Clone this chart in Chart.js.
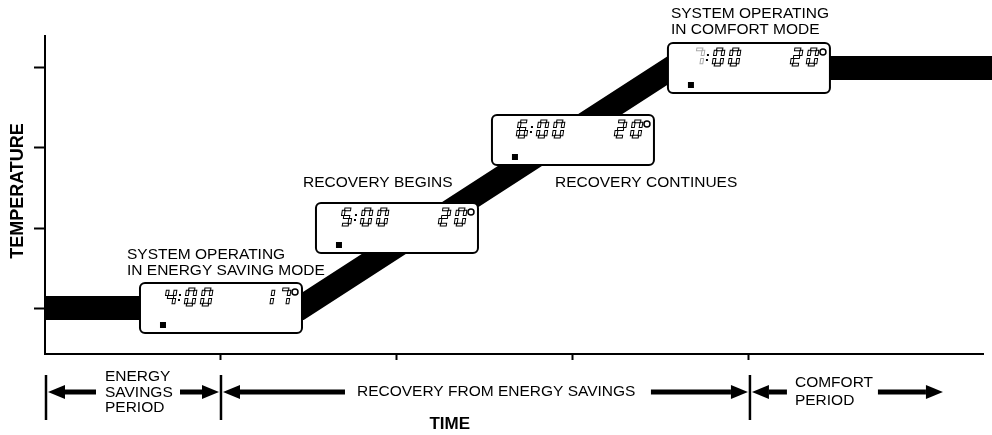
<!DOCTYPE html>
<html>
<head>
<meta charset="utf-8">
<script src="https://cdn.jsdelivr.net/npm/chart.js@4.4.1/dist/chart.umd.min.js"></script>
<style>
    html, body { margin: 0; padding: 0; background: #fff; }
    #wrap { width: 992px; height: 435px; position: relative; }
</style>
</head>
<body>
<div id="wrap"><canvas id="recoveryChart"></canvas></div>
<script>
// temperature profile: hour of day vs degrees
const timeValues = [3, 4.45, 6.56, 8.4];
const tempValues = [17, 17, 20, 20];
const timeTicks = [4, 5, 6, 7];
const tempTicks = [17, 18, 19, 20];

// thermostat readouts along the curve
const displayTimes = ['4:00', '5:00', '6:00', '7:00'];
const displayTemps = ['17', '20', '20', '20'];
const displayAtTime = [4, 5, 6, 7];
const displayAtTemp = [17, 18, 19.1, 20];
const displayNotes = [
    ['SYSTEM OPERATING', 'IN ENERGY SAVING MODE'],
    ['RECOVERY BEGINS'],
    ['RECOVERY CONTINUES'],
    ['SYSTEM OPERATING', 'IN COMFORT MODE']
];

// periods under the time axis
const periodEdges = [3, 4, 7];
const periodLabels = [
    ['ENERGY', 'SAVINGS', 'PERIOD'],
    ['RECOVERY FROM ENERGY SAVINGS'],
    ['COMFORT', 'PERIOD']
];

const FONT = '"Liberation Sans", Arial, sans-serif';

// seven segment digits
const SEGMENTS = {
    '0': 'abcdef', '1': 'bc', '2': 'abged', '3': 'abgcd', '4': 'fgbc',
    '5': 'afgcd', '6': 'afgecd', '7': 'abc', '8': 'abcdefg', '9': 'abcdfg'
};

function drawDigit(ctx, ch, x, y, color) {
    const w = 10.5, h = 18, t = 2.8, hh = h / 2;
    const rects = {
        a: [t * 0.8, 0, w - 1.6 * t, t],
        g: [t * 0.8, hh - t / 2, w - 1.6 * t, t],
        d: [t * 0.8, h - t, w - 1.6 * t, t],
        f: [0, t * 0.8, t, hh - 1.3 * t],
        b: [w - t, t * 0.8, t, hh - 1.3 * t],
        e: [0, hh + 0.5 * t, t, hh - 1.3 * t],
        c: [w - t, hh + 0.5 * t, t, hh - 1.3 * t]
    };
    ctx.save();
    ctx.translate(x, y + h);
    ctx.transform(1, 0, -0.15, 1, 0, 0);
    ctx.strokeStyle = color;
    ctx.lineWidth = 1;
    for (const s of SEGMENTS[ch] || '') {
        const r = rects[s];
        ctx.strokeRect(r[0], r[1] - h, r[2], r[3]);
    }
    ctx.restore();
}

function drawDisplay(ctx, cx, cy, time, temp, dimFirst) {
    const w = 162, h = 50;
    const x = cx - w / 2, y = cy - h / 2;
    ctx.save();
    ctx.beginPath();
    ctx.roundRect(x, y, w, h, 5);
    ctx.fillStyle = '#fff';
    ctx.fill();
    ctx.lineWidth = 2;
    ctx.strokeStyle = '#000';
    ctx.stroke();

    let dx = x + 24;
    const dy = y + 5;
    let first = true;
    for (const ch of time) {
        if (ch === ':') {
            ctx.fillStyle = '#000';
            ctx.fillRect(dx - 1, dy + 6, 2, 2);
            ctx.fillRect(dx - 2, dy + 11, 2, 2);
            dx += 4;
            continue;
        }
        drawDigit(ctx, ch, dx, dy, dimFirst && first ? '#aaa' : '#000');
        first = false;
        dx += 16;
    }
    const tx = x + w - 40;
    drawDigit(ctx, temp[0], tx, dy, '#000');
    drawDigit(ctx, temp[1], tx + 16, dy, '#000');
    ctx.beginPath();
    ctx.arc(x + w - 7, dy + 4, 3, 0, Math.PI * 2);
    ctx.lineWidth = 1.5;
    ctx.stroke();

    ctx.fillStyle = '#000';
    ctx.fillRect(x + 20, y + 39, 6, 6);
    ctx.restore();
}

function drawArrow(ctx, from, to, y) {
    const dir = Math.sign(to - from);
    const head = 17;
    ctx.lineWidth = 5;
    ctx.beginPath();
    ctx.moveTo(from, y);
    ctx.lineTo(to - dir * head, y);
    ctx.stroke();
    ctx.beginPath();
    ctx.moveTo(to, y);
    ctx.lineTo(to - dir * head, y - 7);
    ctx.lineTo(to - dir * head, y + 7);
    ctx.closePath();
    ctx.fill();
}

const annotations = {
    id: 'annotations',
    afterDatasetsDraw(chart) {
        const ctx = chart.ctx;
        const xs = chart.scales.x, ys = chart.scales.y;

        // readout boxes and their notes
        displayTimes.forEach((t, i) => {
            const cx = xs.getPixelForValue(displayAtTime[i]);
            const cy = ys.getPixelForValue(displayAtTemp[i]);
            drawDisplay(ctx, cx, cy, t, displayTemps[i], i === 3);
        });

        ctx.save();
        ctx.fillStyle = '#000';
        ctx.font = '15.5px ' + FONT;
        ctx.textBaseline = 'middle';
        ctx.textAlign = 'left';
        const boxLeft = i => xs.getPixelForValue(displayAtTime[i]) - 81;
        const boxTop = i => ys.getPixelForValue(displayAtTemp[i]) - 25;
        const boxBottom = i => ys.getPixelForValue(displayAtTemp[i]) + 25;
        ctx.fillText(displayNotes[0][0], boxLeft(0) - 13, boxTop(0) - 28);
        ctx.fillText(displayNotes[0][1], boxLeft(0) - 13, boxTop(0) - 12);
        ctx.fillText(displayNotes[1][0], boxLeft(1) - 13, boxTop(1) - 20);
        ctx.fillText(displayNotes[2][0], boxLeft(2) + 63, boxBottom(2) + 18);
        ctx.fillText(displayNotes[3][0], boxLeft(3) + 3, boxTop(3) - 29);
        ctx.fillText(displayNotes[3][1], boxLeft(3) + 3, boxTop(3) - 13);

        // period markers
        const [b0, b1, b2] = periodEdges.map(v => xs.getPixelForValue(v));
        const ay = 392;
        ctx.strokeStyle = '#000';
        ctx.lineWidth = 2.5;
        [b0 + 1, b1, b2 + 1].forEach(bx => {
            ctx.beginPath();
            ctx.moveTo(bx, 375);
            ctx.lineTo(bx, 420);
            ctx.stroke();
        });
        drawArrow(ctx, b0 + 51, b0 + 3, ay);
        drawArrow(ctx, b1 - 41, b1 - 2, ay);
        drawArrow(ctx, b1 + 124, b1 + 2, ay);
        drawArrow(ctx, b2 - 98, b2 - 1, ay);
        drawArrow(ctx, b2 + 38, b2 + 3, ay);
        drawArrow(ctx, b2 + 129, b2 + 194, ay);

        periodLabels[0].forEach((s, i) => ctx.fillText(s, b0 + 60, 377 + i * 15.5));
        ctx.fillText(periodLabels[1][0], b1 + 136, ay);
        periodLabels[2].forEach((s, i) => ctx.fillText(s, b2 + 46, 383 + i * 18));

        // axis titles
        ctx.font = 'bold 17px ' + FONT;
        ctx.textAlign = 'center';
        ctx.fillText('TIME', xs.getPixelForValue(5.3), 424);
        ctx.font = 'bold 18px ' + FONT;
        ctx.translate(18, 191);
        ctx.rotate(-Math.PI / 2);
        ctx.fillText('TEMPERATURE', 0, 0);
        ctx.restore();
    }
};

document.addEventListener('DOMContentLoaded', function() {
    const chartEl = document.getElementById('recoveryChart');
    new Chart(chartEl, {
        type: 'line',
        data: {
            datasets: [{
                data: timeValues.map((t, i) => ({ x: t, y: tempValues[i] })),
                borderColor: '#000',
                borderWidth: 24,
                borderCapStyle: 'butt',
                borderJoinStyle: 'miter',
                pointRadius: 0,
                tension: 0,
                fill: false,
                clip: false
            }]
        },
        options: {
            responsive: true,
            maintainAspectRatio: false,
            animation: false,
            layout: { padding: { left: 34, right: 9, top: 36, bottom: 75 } },
            plugins: { legend: { display: false }, tooltip: { enabled: false } },
            scales: {
                x: {
                    type: 'linear',
                    min: 3,
                    max: 8.33,
                    afterBuildTicks: scale => { scale.ticks = timeTicks.map(v => ({ value: v })); },
                    ticks: { display: false },
                    grid: { drawOnChartArea: false, drawTicks: true, tickLength: 6, tickWidth: 2, tickColor: '#000' },
                    border: { display: true, color: '#000', width: 2 }
                },
                y: {
                    type: 'linear',
                    min: 16.425,
                    max: 20.4,
                    afterBuildTicks: scale => { scale.ticks = tempTicks.map(v => ({ value: v })); },
                    ticks: { display: false },
                    grid: { drawOnChartArea: false, drawTicks: true, tickLength: 11, tickWidth: 2, tickColor: '#000' },
                    border: { display: true, color: '#000', width: 2 }
                }
            }
        },
        plugins: [annotations]
    });
});
</script>
</body>
</html>
